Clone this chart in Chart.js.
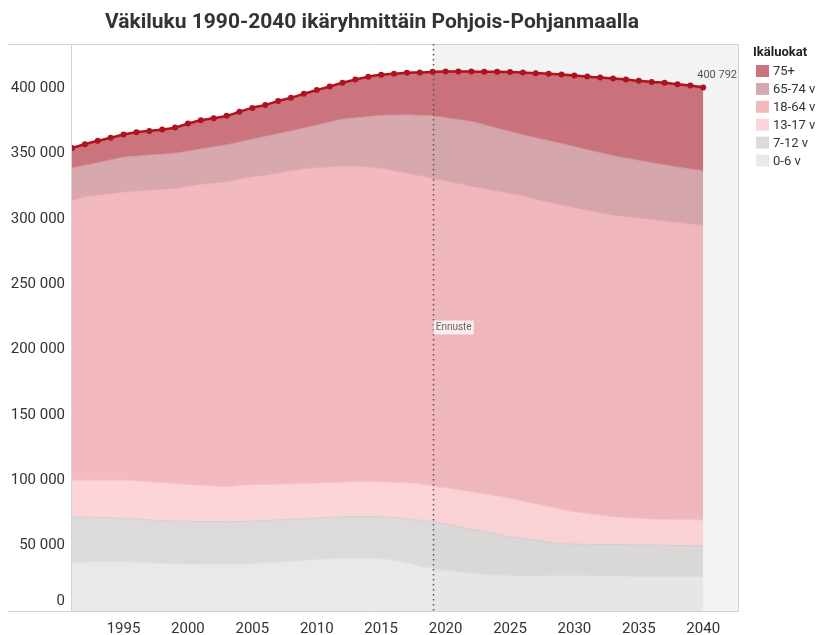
<!DOCTYPE html>
<html>
<head>
<meta charset="utf-8">
<script src="https://cdn.jsdelivr.net/npm/chart.js@4"></script>
<style>
  html, body { margin: 0; padding: 0; background: #fff; }
  #wrap { width: 819px; height: 635px; position: relative; }
</style>
</head>
<body>
<div id="wrap"><canvas id="chart" width="819" height="635"></canvas></div>
<script>
// vuodet ja ikäryhmät
const years = [];
for (let y = 1991; y <= 2040; y++) years.push(y);
const xTickYears = [1995, 2000, 2005, 2010, 2015, 2020, 2025, 2030, 2035, 2040];
const yTicks = [0, 50000, 100000, 150000, 200000, 250000, 300000, 350000, 400000];
const forecastStart = 2019;

const age0_6 = [37500, 37600, 37700, 37800, 37800, 37400, 37000, 36500, 36200, 36000,
  35800, 35800, 35800, 35800, 36400, 37000, 37500, 38100, 38800, 39400,
  40000, 40300, 40600, 40400, 40000, 38800, 37000, 34500, 32700, 31300,
  30100, 29000, 28100, 27600, 27300, 27000, 27000, 26900, 26900, 26900,
  26900, 26800, 26800, 26800, 26600, 26300, 26300, 26300, 26300, 26300];
const age7_12 = [34700, 34300, 33900, 33500, 33200, 33000, 32800, 32700, 32700, 32700,
  32600, 32600, 32600, 32600, 32500, 32300, 32300, 32100, 31900, 31800,
  31700, 31900, 31700, 31900, 32200, 32700, 33500, 35000, 35700, 35200,
  34400, 33600, 32600, 31200, 29600, 28600, 27400, 25900, 24400, 24300,
  24200, 24200, 24100, 24000, 24000, 24200, 24000, 23800, 23700, 23500];
const age13_17 = [28100, 28400, 28700, 29000, 29300, 29200, 29100, 29000, 28600, 28200,
  27800, 27300, 26800, 27600, 27800, 27600, 27200, 27000, 26800, 26700,
  26500, 26400, 26700, 26600, 26600, 27000, 27500, 27700, 27300, 27800,
  28400, 28800, 29000, 29200, 29400, 28600, 27600, 27100, 26600, 24800,
  23600, 22400, 21300, 20800, 20400, 19900, 19900, 19900, 19900, 19900];
const age18_64 = [213900, 216900, 218100, 219300, 220500, 221900, 223300, 224700, 226100, 228300,
  230500, 232000, 233500, 234700, 235900, 236700, 238300, 239800, 241200, 241500,
  241800, 242100, 241700, 241000, 240200, 238700, 237300, 236100, 235600, 235000,
  234500, 234000, 233800, 233600, 233400, 233600, 233400, 233100, 232900, 232900,
  232300, 231700, 231000, 230500, 230000, 229500, 228700, 227700, 226600, 225600];
const age65_74 = [24800, 23900, 24800, 25700, 26600, 26700, 26700, 26800, 26800, 26800,
  26900, 27500, 28100, 28200, 28500, 29600, 30000, 30500, 30900, 32500,
  34200, 35800, 36700, 38500, 40300, 42300, 44500, 46100, 47700, 48300,
  48700, 49300, 48700, 48000, 47400, 46700, 46900, 47000, 47000, 46600,
  46100, 45700, 45200, 44600, 43900, 43300, 42600, 42200, 41900, 41600];
const age75plus = [15300, 16200, 16700, 16900, 17300, 18300, 18600, 18800, 19700, 21100,
  22100, 22000, 22200, 23200, 24000, 24200, 25000, 25300, 26300, 26800,
  27300, 27800, 29400, 30500, 31100, 31700, 32200, 32800, 33700, 35400,
  36900, 38300, 40500, 43100, 45400, 47700, 49400, 51200, 52800, 54400,
  56000, 57500, 59200, 60100, 60900, 61800, 62800, 63300, 63800, 63892];

const groupLabels = ["0-6 v", "7-12 v", "13-17 v", "18-64 v", "65-74 v", "75+"];
const groupValues = [age0_6, age7_12, age13_17, age18_64, age65_74, age75plus];
const groupFill = ["#eae9e8", "#dcdbda", "#fdd4d8", "#f2b9be", "#d7a8ae", "#cc747e"];
const groupLine = ["#e0dfde", "#d3d2d1", "#f6c3c8", "#eba4aa", "#cd959c", "#c2646e"];

const total = years.map((_, i) => groupValues.reduce((s, g) => s + g[i], 0));

const FONT = "Roboto, 'Noto Sans', sans-serif";
const fmt = v => String(Math.round(v)).replace(/\B(?=(\d{3})+(?!\d))/g, " ");

const datasets = groupValues.map((vals, i) => ({
  label: groupLabels[i],
  data: years.map((y, j) => ({ x: y, y: vals[j] })),
  backgroundColor: groupFill[i],
  borderColor: groupLine[i],
  borderWidth: 1,
  fill: i === 0 ? "origin" : "-1",
  pointRadius: 0,
  cubicInterpolationMode: "monotone",
  stack: "ages",
  order: 1
}));
datasets.push({
  label: "Yhteensä",
  data: years.map((y, j) => ({ x: y, y: total[j] })),
  borderColor: "#b0131e",
  backgroundColor: "#b0131e",
  borderWidth: 2.5,
  fill: false,
  pointRadius: 3,
  pointBorderWidth: 0,
  cubicInterpolationMode: "monotone",
  stack: "total",
  order: 0
});

// taustat, viivat ja tekstit
const decor = {
  id: "decor",
  beforeDatasetsDraw(chart) {
    const { ctx, chartArea: a, scales: { x } } = chart;
    const fx = x.getPixelForValue(forecastStart);
    ctx.save();
    ctx.fillStyle = "#f6f6f6";
    ctx.fillRect(fx, a.top, a.right - fx, a.bottom - a.top);
    ctx.restore();
  },
  afterDatasetsDraw(chart) {
    const { ctx, chartArea: a, scales: { x, y } } = chart;
    const fx = x.getPixelForValue(forecastStart);
    ctx.save();
    // kevyt varjostus ennustealueelle
    ctx.fillStyle = "rgba(0,0,0,0.012)";
    ctx.fillRect(fx, a.top, a.right - fx, a.bottom - a.top);

    // kehys
    ctx.strokeStyle = "#d4d4d4";
    ctx.lineWidth = 1;
    ctx.beginPath();
    ctx.moveTo(8, a.top + 0.5); ctx.lineTo(a.right + 0.5, a.top + 0.5);
    ctx.lineTo(a.right + 0.5, a.bottom + 0.5); ctx.lineTo(8, a.bottom + 0.5);
    ctx.moveTo(a.left - 0.5, a.top); ctx.lineTo(a.left - 0.5, a.bottom);
    ctx.stroke();

    // ennusteviiva
    ctx.strokeStyle = "#555";
    ctx.setLineDash([1.5, 3.5]);
    ctx.lineWidth = 1.5;
    ctx.beginPath();
    ctx.moveTo(Math.round(fx) + 0.5, a.top);
    ctx.lineTo(Math.round(fx) + 0.5, a.bottom);
    ctx.stroke();
    ctx.setLineDash([]);

    // Ennuste-merkintä
    const my = (a.top + a.bottom) / 2;
    ctx.font = "10px " + FONT;
    const tw = ctx.measureText("Ennuste").width;
    ctx.fillStyle = "rgba(255,255,255,0.75)";
    ctx.fillRect(fx + 1, my - 7, tw + 4, 14);
    ctx.fillStyle = "#666";
    ctx.textBaseline = "middle";
    ctx.textAlign = "left";
    ctx.fillText("Ennuste", fx + 3, my);

    // viimeisen arvon merkintä
    const last = total.length - 1;
    const lx = x.getPixelForValue(years[last]);
    const ly = y.getPixelForValue(total[last]);
    ctx.font = "11px " + FONT;
    ctx.fillStyle = "#555";
    ctx.textAlign = "left";
    ctx.fillText(fmt(total[last]), lx - 6, ly - 12);

    // nolla-arvon nimiö hieman ylemmäs kuten Tableaussa
    ctx.font = "15px " + FONT;
    ctx.fillStyle = "#333";
    ctx.textAlign = "right";
    ctx.fillText("0", a.left - 7, y.getPixelForValue(0) - 10);

    // otsikko
    ctx.font = "bold 21px " + FONT;
    ctx.fillStyle = "#333";
    ctx.textAlign = "center";
    ctx.fillText("Väkiluku 1990-2040 ikäryhmittäin Pohjois-Pohjanmaalla", 372, 23);

    // selite
    ctx.textAlign = "left";
    ctx.font = "bold 13px " + FONT;
    ctx.fillStyle = "#222";
    ctx.fillText("Ikäluokat", 753, 53);
    ctx.font = "13px " + FONT;
    for (let k = 0; k < groupLabels.length; k++) {
      const gi = groupLabels.length - 1 - k;
      const cy = 71 + k * 17.9;
      ctx.fillStyle = groupFill[gi];
      ctx.fillRect(756, cy - 6, 13, 12);
      ctx.fillStyle = "#333";
      ctx.fillText(groupLabels[gi], 773, cy + 1);
    }
    ctx.restore();
  }
};

new Chart(document.getElementById("chart"), {
  type: "line",
  data: { datasets },
  options: {
    responsive: false,
    animation: false,
    layout: { padding: { top: 44, right: 81, left: 0, bottom: 0 } },
    plugins: { legend: { display: false }, tooltip: { enabled: false } },
    scales: {
      x: {
        type: "linear",
        min: 1991,
        max: 2042.7,
        afterBuildTicks: s => { s.ticks = xTickYears.map(v => ({ value: v })); },
        afterFit: s => { s.height = 24; },
        grid: { display: false, drawTicks: false },
        border: { display: false },
        ticks: {
          padding: 9,
          maxRotation: 0,
          color: "#333",
          font: { family: FONT, size: 15 },
          callback: v => String(v)
        }
      },
      y: {
        stacked: true,
        min: 0,
        max: 434000,
        afterBuildTicks: s => { s.ticks = yTicks.map(v => ({ value: v })); },
        afterFit: s => { s.width = 72; },
        grid: { display: false, drawTicks: false },
        border: { display: false },
        ticks: {
          padding: 7,
          color: "#333",
          font: { family: FONT, size: 15 },
          callback: v => (v === 0 ? "" : fmt(v))
        }
      }
    }
  },
  plugins: [decor]
});
</script>
</body>
</html>
